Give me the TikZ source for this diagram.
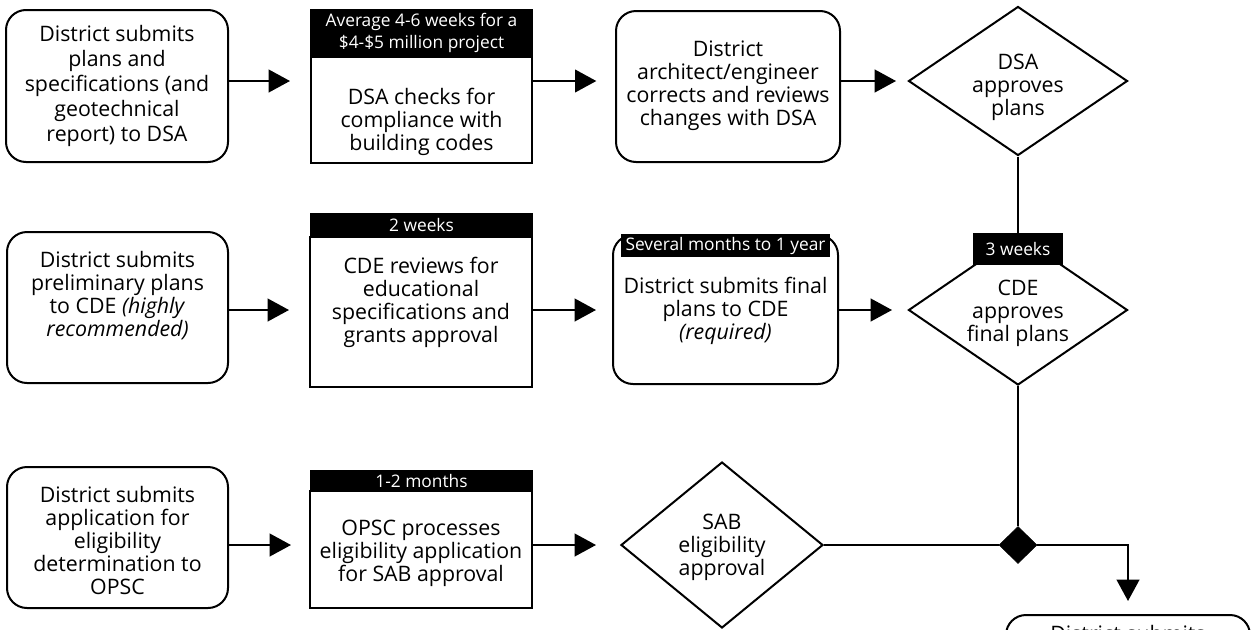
\documentclass[tikz,border=0pt]{standalone}
\usepackage{fontspec}
\setmainfont{Open Sans}
\usetikzlibrary{shapes.geometric,arrows.meta,calc}
\tikzset{
  sz/.style 2 args={minimum width=#1*0.75pt, minimum height=#2*0.75pt},
  base/.style={line width=1.5pt, draw=black, inner sep=0pt},
  rbox/.style={base, rounded corners=15pt, fill=white},
  sbox/.style={base, fill=white},
  hdr/.style={fill=black, draw=none, inner sep=0pt},
  dia/.style={base, diamond, fill=white},
  blk/.style={diamond, fill=black, draw=black, inner sep=0pt},
  txt/.style={align=center, inner sep=0pt, font=\fontsize{16}{17.25}\selectfont},
  htxt/.style={align=center, inner sep=0pt, text=white, font=\fontsize{13}{16.5}\selectfont},
  arr/.style={line width=1.5pt, -{Triangle[length=16pt,width=17pt]}},
  ln/.style={line width=1.5pt},
}
\begin{document}
\begin{tikzpicture}[x=0.75pt,y=-0.75pt]
\useasboundingbox (0,0) rectangle (1260,629);
\clip (0,0) rectangle (1260,629);
\fill[white] (0,0) rectangle (1260,629);

% Row 1
\node[rbox, sz={222}{152}] (A1) at (117,86) {};
\node[txt, font=\fontsize{16}{18.75}\selectfont] (A1t) at (117,86) {District submits\\plans and\\specifications (and\\geotechnical\\report) to DSA};

\node[sbox, sz={221}{106}] (A2) at (421.5,110) {};
\node[hdr, sz={223}{48}] (A2h) at (421.5,33) {};
\node[htxt] (A2ht) at (421.5,33) {Average 4-6 weeks for a\\\$4-\$5 million project};
\node[txt] (A2t) at (421.5,122) {DSA checks for\\compliance with\\building codes};

\node[rbox, sz={224}{151}] (A3) at (728,86.5) {};
\node[txt] (A3t) at (728,86) {District\\architect/engineer\\corrects and reviews\\changes with DSA};

\node[dia, sz={219}{149}] (D1) at (1018,81) {};
\node[txt] (D1t) at (1018,87) {DSA\\approves\\plans};

% Row 2
\node[rbox, sz={221}{151}] (B1) at (117.5,307.5) {};
\node[txt] (B1t) at (117.5,296) {District submits\\preliminary plans\\to CDE \textit{(highly}\\\textit{recommended)}};

\node[sbox, sz={222}{150}] (B2) at (421,312) {};
\node[hdr, sz={223}{24}] (B2h) at (421.5,225) {};
\node[htxt] (B2ht) at (421.5,225) {2 weeks};
\node[txt] (B2t) at (421,302) {CDE reviews for\\educational\\specifications and\\grants approval};

\node[rbox, sz={225}{149}] (B3) at (725.5,309.5) {};
\node[hdr, sz={209}{23}] (B3h) at (725.5,245.5) {};
\node[htxt] (B3ht) at (725.5,245.5) {Several months to 1 year};
\node[txt] (B3t) at (725.5,311) {District submits final\\plans to CDE\\\textit{(required)}};

\node[dia, sz={219}{150}] (D2) at (1018,310) {};
\node[hdr, sz={90}{32}] (W3) at (1018,249) {};
\node[htxt] (W3t) at (1018,249) {3 weeks};
\node[txt] (D2t) at (1018,313) {CDE\\approves\\final plans};

% Row 3
\node[rbox, sz={221}{141}] (C1) at (117.5,537.5) {};
\node[txt] (C1t) at (117.5,540) {District submits\\application for\\eligibility\\determination to\\OPSC};

\node[sbox, sz={222}{117}] (C2) at (421,549.5) {};
\node[hdr, sz={223}{21}] (C2h) at (421.5,480.5) {};
\node[htxt] (C2ht) at (421.5,480.5) {1-2 months};
\node[txt] (C2t) at (421,553) {OPSC processes\\eligibility application\\for SAB approval};

\node[dia, sz={202}{166}] (D3) at (722,545) {};
\node[txt] (D3t) at (722,547) {SAB\\eligibility\\approval};

\node[blk, sz={38}{37}] (BD) at (1018,545) {};

\node[rbox, sz={244}{110}] (E) at (1128,670) {};
\node[txt, anchor=base] (Et) at (1128,641) {District submits};

% Connectors
\draw[arr, shorten >=15pt] (A1.east |- D1.west) -- (A2.west |- D1.west);
\draw[arr, shorten >=14pt] (A2.east |- D1.west) -- (A3.west |- D1.west);
\draw[arr, shorten >=8.6pt] (A3.east |- D1.west) -- (D1.west);

\draw[arr, shorten >=15pt] (B1.east |- D2.west) -- (B2.west |- D2.west);
\draw[arr, shorten >=12pt] (B2.east |- D2.west) -- (B3.west |- D2.west);
\draw[arr, shorten >=11.6pt] (B3.east |- D2.west) -- (D2.west);

\draw[arr, shorten >=13.5pt] (C1.east |- D3.west) -- (C2.west |- D3.west);
\draw[arr, shorten >=18pt] (C2.east |- D3.west) -- (D3.west);

\draw[ln] (D1.south) -- (W3.north);
\draw[ln] (D2.south) -- (BD.north);
\draw[ln] (D3.east) -- (BD.west);
\draw[arr, shorten >=9.75pt] (BD.east) -| (E.north);
\end{tikzpicture}
\end{document}
